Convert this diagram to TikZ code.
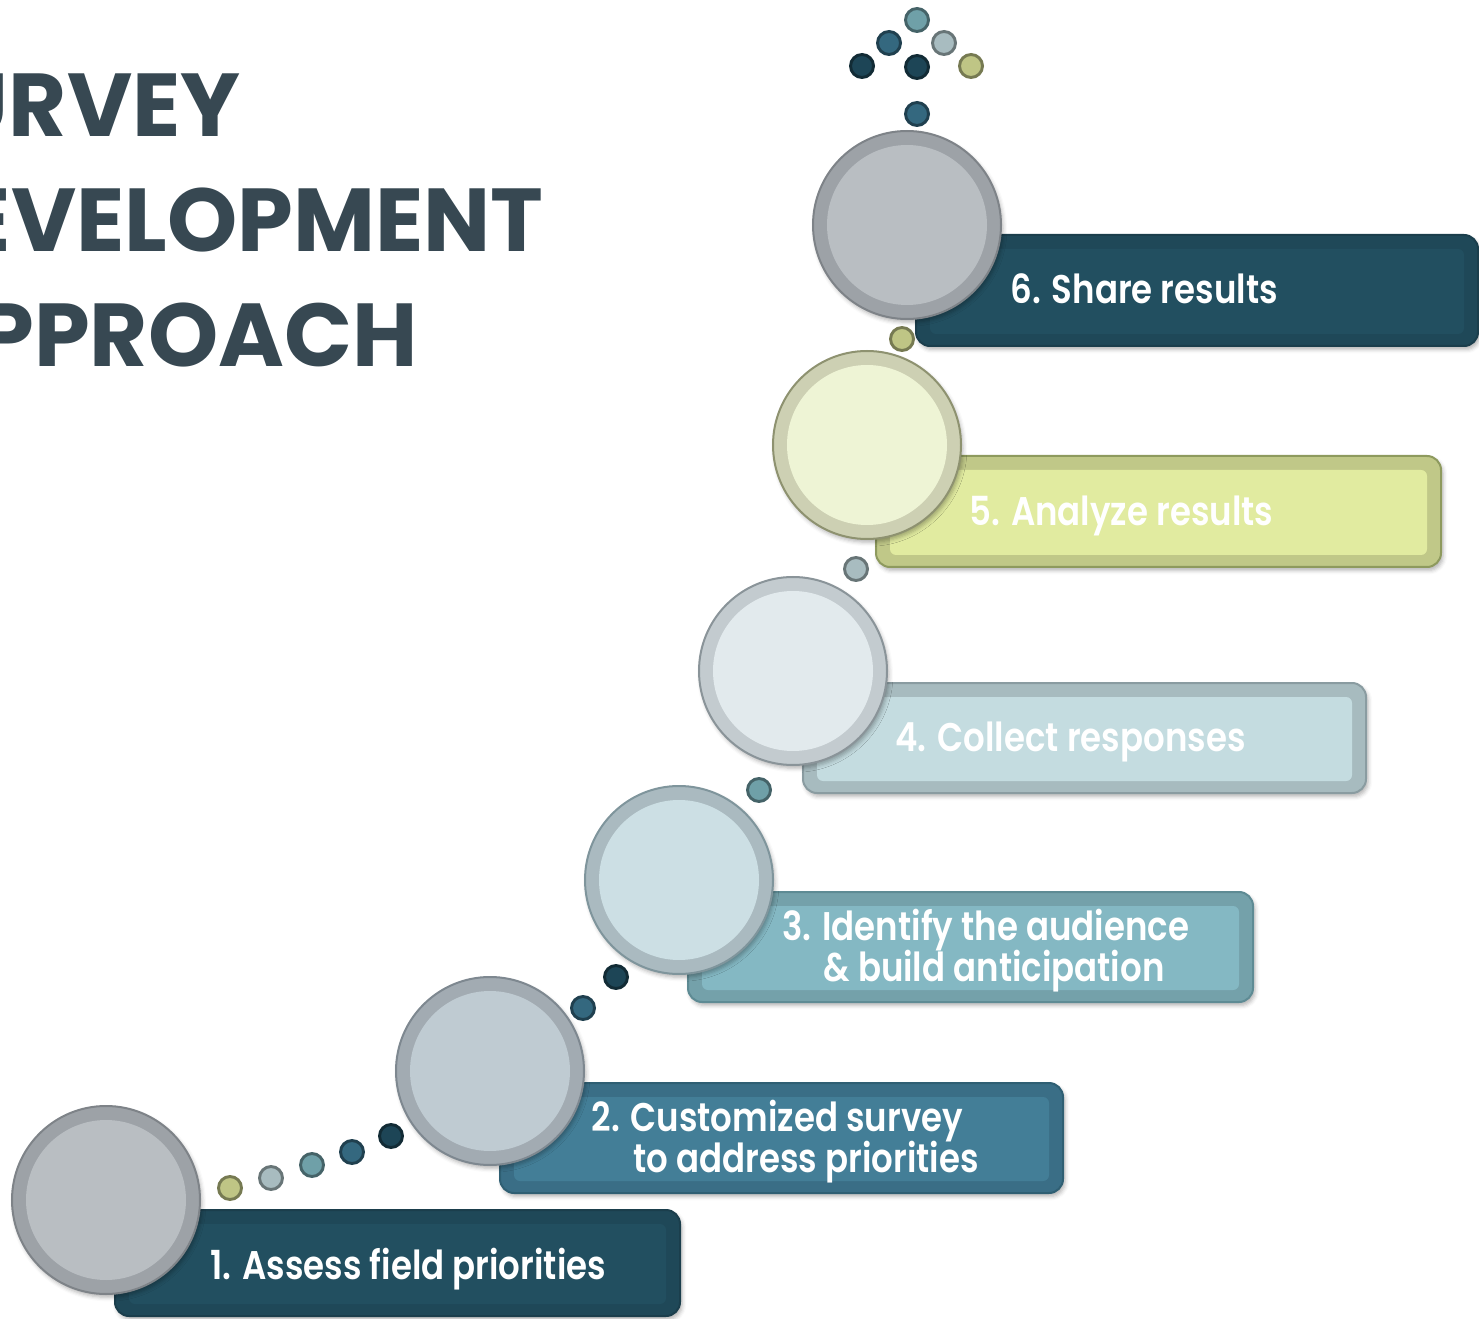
\documentclass[tikz,border=0pt]{standalone}
\usepackage{fontspec}
\setmainfont{Poppins}
\newfontfamily\stagefam{Poppins}[FakeStretch=0.85, BoldFont=* SemiBold]
\usetikzlibrary{shadows.blur}

\definecolor{titleC}{RGB}{55,72,82}
% bars: outline, band, inner panel
\definecolor{darkLine}{RGB}{27,62,76}
\definecolor{darkBand}{RGB}{31,72,88}
\definecolor{darkFill}{RGB}{34,79,96}
\definecolor{blueLine}{RGB}{47,95,115}
\definecolor{blueBand}{RGB}{58,110,134}
\definecolor{blueFill}{RGB}{67,126,151}
\definecolor{tealLine}{RGB}{94,139,148}
\definecolor{tealBand}{RGB}{116,161,170}
\definecolor{tealFill}{RGB}{132,184,195}
\definecolor{mistLine}{RGB}{138,156,161}
\definecolor{mistBand}{RGB}{167,187,191}
\definecolor{mistFill}{RGB}{196,220,224}
\definecolor{limeLine}{RGB}{142,154,94}
\definecolor{limeBand}{RGB}{192,200,136}
\definecolor{limeFill}{RGB}{225,235,160}
% circles: outline, ring, disc
\definecolor{greyLine}{RGB}{126,131,136}
\definecolor{greyRing}{RGB}{157,162,167}
\definecolor{greyDisc}{RGB}{185,190,194}
\definecolor{slateLine}{RGB}{126,136,144}
\definecolor{slateRing}{RGB}{162,171,178}
\definecolor{slateDisc}{RGB}{191,203,210}
\definecolor{iceLine}{RGB}{127,149,156}
\definecolor{iceRing}{RGB}{170,186,192}
\definecolor{iceDisc}{RGB}{204,223,228}
\definecolor{frostLine}{RGB}{138,148,153}
\definecolor{frostRing}{RGB}{195,203,207}
\definecolor{frostDisc}{RGB}{226,234,237}
\definecolor{creamLine}{RGB}{142,146,112}
\definecolor{creamRing}{RGB}{205,208,179}
\definecolor{creamDisc}{RGB}{238,244,213}
% small dots
\definecolor{dotG}{RGB}{191,197,133}
\definecolor{dotS}{RGB}{168,188,192}
\definecolor{dotT}{RGB}{111,160,168}
\definecolor{dotB}{RGB}{52,104,127}
\definecolor{dotN}{RGB}{29,69,86}

\newcommand\stagefont{\stagefam\fontsize{30}{36}\selectfont\bfseries}
\newcommand\headingfont{\fontsize{67}{67}\selectfont\bfseries}

\tikzset{every picture/.style={line width=0.75pt}}
\tikzset{
  softshadow/.style={blur shadow={shadow xshift=1.5pt, shadow yshift=-2.5pt, shadow blur radius=3pt, shadow opacity=30}},
  bar/.style={rounded corners=10.5pt, line width=1.5pt, softshadow},
  panel/.style={rounded corners=4.5pt},
  ring/.style={line width=1.5pt, softshadow},
  dot/.style={line width=2.2pt},
  stage/.style={text=white, font=\stagefont, anchor=base west, inner sep=0pt},
  heading/.style={text=titleC, font=\headingfont, anchor=base east, inner sep=0pt}
}

\begin{document}
\begin{tikzpicture}[x=0.75pt,y=0.75pt,yscale=-1,xscale=1]
\useasboundingbox (0,0) rectangle (1479,1319);
\clip (0,0) rectangle (1479,1319);

% Text Node
\draw (241,137) node [heading] (h1) {SURVEY};
% Text Node
\draw (544,252) node [heading] (h2) {DEVELOPMENT};
% Text Node
\draw (418,367) node [heading] (h3) {APPROACH};

%Shape: Rounded Rect [bar 1]
\draw [bar, draw=darkLine, fill=darkBand] (115,1210) rectangle (680,1316);
\fill [panel, darkFill] (129,1224) rectangle (666,1304);
%Shape: Rounded Rect [bar 2]
\draw [bar, draw=blueLine, fill=blueBand] (500,1083) rectangle (1063,1193);
\fill [panel, blueFill] (514,1097) rectangle (1049,1181);
%Shape: Rounded Rect [bar 3]
\draw [bar, draw=tealLine, fill=tealBand] (688,892) rectangle (1253,1002);
\fill [panel, tealFill] (702,906) rectangle (1239,990);
%Shape: Rounded Rect [bar 4]
\draw [bar, draw=mistLine, fill=mistBand] (803,683) rectangle (1366,793);
\fill [panel, mistFill] (817,697) rectangle (1352,781);
%Shape: Rounded Rect [bar 5]
\draw [bar, draw=limeLine, fill=limeBand] (876,456) rectangle (1441,567);
\fill [panel, limeFill] (890,470) rectangle (1427,555);
%Shape: Rounded Rect [bar 6]
\draw [bar, draw=darkLine, fill=darkBand] (916,235) rectangle (1478,346);
\fill [panel, darkFill] (930,249) rectangle (1464,334);

%Shape: Circle [stage 1]
\draw [ring, draw=greyLine, fill=greyRing] (106,1200) circle (94);
\fill [greyDisc] (106,1200) circle (80);
%Shape: Circle [stage 2]
\draw [ring, draw=slateLine, fill=slateRing] (490,1071) circle (94);
\fill [slateDisc] (490,1071) circle (80);
%Shape: Circle [stage 3]
\draw [ring, draw=iceLine, fill=iceRing] (679,880) circle (94);
\fill [iceDisc] (679,880) circle (80);
%Shape: Circle [stage 4]
\draw [ring, draw=frostLine, fill=frostRing] (793,671) circle (94);
\fill [frostDisc] (793,671) circle (80);
%Shape: Circle [stage 5]
\draw [ring, draw=creamLine, fill=creamRing] (867,445) circle (94);
\fill [creamDisc] (867,445) circle (80);
%Shape: Circle [stage 6]
\draw [ring, draw=greyLine, fill=greyRing] (907,225) circle (94);
\fill [greyDisc] (907,225) circle (80);

%Shape: small dots
\foreach \px/\py/\c in {230/1188/dotG, 271/1178/dotS, 312/1165/dotT, 352/1152/dotB, 391/1136/dotN,
    583/1008/dotB, 616/977/dotN, 759/790/dotT, 856/569/dotS, 902/339/dotG, 917/114/dotB,
    862/66/dotN, 889/43/dotB, 917/20/dotT, 917/67/dotN, 944/43/dotS, 971/66/dotG}
  \draw [dot, draw=\c!62!black, fill=\c] (\px,\py) circle (11.5);

% Text Node
\draw (210,1279) node [stage] (t1) {1. Assess field priorities};
% Text Node
\draw (591,1131) node [stage] (t2a) {2. Customized survey};
\draw (633,1172) node [stage] (t2b) {to address priorities};
% Text Node
\draw (782,940) node [stage] (t3a) {3. Identify the audience};
\draw (823,981) node [stage] (t3b) {\& build anticipation};
% Text Node
\draw (895,751) node [stage] (t4) {4. Collect responses};
% Text Node
\draw (969,526) node [stage] (t5) {5. Analyze results};
% Text Node
\draw (1010,304) node [stage] (t6) {6. Share results};

\end{tikzpicture}
\end{document}
